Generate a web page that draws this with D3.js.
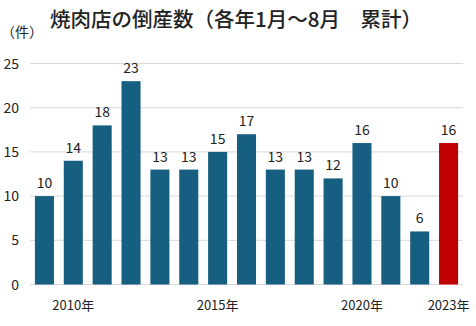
<!DOCTYPE html>
<html><head><meta charset="utf-8">
<script src="https://cdn.jsdelivr.net/npm/d3@7"></script>
<style>
body{margin:0;background:#fff;}
text{font-family:"Noto Sans CJK JP","Noto Sans",sans-serif;}
</style></head>
<body><svg id="c" width="476" height="326"></svg>
<script>
const years = [2009,2010,2011,2012,2013,2014,2015,2016,2017,2018,2019,2020,2021,2022,2023];
const values = [10,14,18,23,13,13,15,17,13,13,12,16,10,6,16];
const yTicks = [0,5,10,15,20,25];
const yearLabels = {2010:"2010年",2015:"2015年",2020:"2020年",2023:"2023年"};
const title = "焼肉店の倒産数（各年1月～8月　累計）";
const unit = "（件）";

const svg = d3.select("#c");
const x = d3.scaleBand().domain(years).range([30,463]).paddingInner(0.34).paddingOuter(0.17);
const y = d3.scaleLinear().domain([0,25]).range([284.5,63.5]);

svg.append("g").selectAll("line").data(yTicks).join("line")
  .attr("x1",30).attr("x2",463).attr("y1",d=>y(d)).attr("y2",d=>y(d))
  .attr("stroke","#d9d9d9").attr("stroke-width",1);

svg.append("g").selectAll("text").data(yTicks).join("text")
  .attr("x",19).attr("y",d=>y(d)+5).attr("text-anchor","end")
  .attr("font-size",14).attr("fill","#222").text(d=>d);

svg.append("g").selectAll("rect").data(years).join("rect")
  .attr("x",d=>x(d)).attr("width",x.bandwidth())
  .attr("y",(d,i)=>y(values[i])).attr("height",(d,i)=>y(0)-y(values[i]))
  .attr("fill",d=>d===2023?"#c00000":"#175f80");

svg.append("g").selectAll("text").data(years).join("text")
  .attr("x",d=>x(d)+x.bandwidth()/2).attr("y",(d,i)=>y(values[i])-8)
  .attr("text-anchor","middle").attr("font-size",14).attr("fill","#222")
  .text((d,i)=>values[i]);

svg.append("g").selectAll("text").data(years.filter(d=>yearLabels[d])).join("text")
  .attr("x",d=>x(d)+x.bandwidth()/2).attr("y",310)
  .attr("text-anchor","middle").attr("font-size",13).attr("fill","#222")
  .text(d=>yearLabels[d]);

svg.append("text").attr("x",236).attr("y",27).attr("text-anchor","middle")
  .attr("font-size",20.5).attr("font-weight",500).attr("fill","#222").text(title);
svg.append("text").attr("x",1).attr("y",37).attr("font-size",14).attr("fill","#222").text(unit);
</script></body></html>
